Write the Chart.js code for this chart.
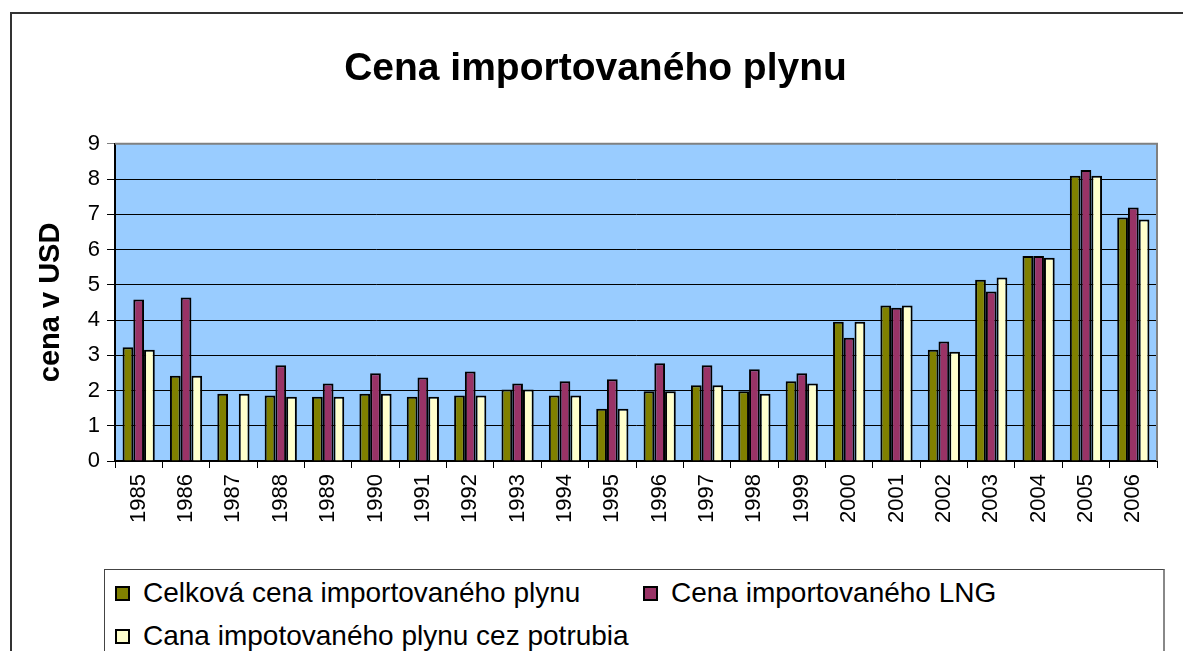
<!DOCTYPE html>
<html>
<head>
<meta charset="utf-8">
<script src="https://cdn.jsdelivr.net/npm/chart.js@4"></script>
<style>
  body { margin: 0; background: #fff; font-family: "Liberation Sans", Arial, sans-serif; }
  #wrap { position: relative; width: 1183px; height: 651px; overflow: hidden; }
  #frame { position: absolute; left: 10px; top: 12px; width: 1300px; height: 800px; border-left: 2px solid #333; border-top: 2px solid #333; }
  #chart { position: absolute; left: 0; top: 0; }
  #legend { position: absolute; left: 104px; top: 569px; width: 1061px; height: 120px; border: 1px solid #444; border-right: 2px solid #888; background: #fff;
    display: grid; grid-template-columns: 528px auto; grid-auto-rows: 43px; padding: 1px 0 0 10px; box-sizing: border-box; }
  .item { position: relative; font-size: 28px; line-height: 43px; color: #000; white-space: nowrap; padding-left: 28px; }
  .box { position: absolute; left: 0; top: 15px; width: 15px; height: 15px; border: 2px solid #000; box-sizing: border-box; }
</style>
</head>
<body>
<div id="wrap">
  <div id="frame"></div>
  <canvas id="chart" width="1183" height="651"></canvas>
  <div id="legend"></div>
</div>
<script>
const CHART = document.getElementById("chart");

const YEARS = ["1985", "1986", "1987", "1988", "1989", "1990", "1991", "1992", "1993", "1994", "1995",
  "1996", "1997", "1998", "1999", "2000", "2001", "2002", "2003", "2004", "2005", "2006"];

// Celkova cena importovaneho plynu
const celkova = [3.23, 2.42, 1.91, 1.86, 1.82, 1.91, 1.82, 1.86, 2.03, 1.86, 1.48,
  1.98, 2.15, 1.98, 2.26, 3.95, 4.41, 3.16, 5.14, 5.82, 8.09, 6.91];
// Cena importovaneho LNG (1987 missing)
const lng = [4.58, 4.64, null, 2.72, 2.20, 2.49, 2.37, 2.54, 2.20, 2.26, 2.32,
  2.77, 2.72, 2.60, 2.49, 3.50, 4.35, 3.39, 4.81, 5.82, 8.26, 7.19];
// cez potrubia
const potrubia = [3.16, 2.42, 1.91, 1.82, 1.82, 1.91, 1.82, 1.86, 2.03, 1.86, 1.48,
  1.98, 2.15, 1.91, 2.20, 3.95, 4.41, 3.10, 5.21, 5.77, 8.09, 6.85];

const Y_TICKS = [0, 1, 2, 3, 4, 5, 6, 7, 8, 9];

const SERIES = [
  { label: "Celková cena importovaného plynu", color: "#808000", data: celkova },
  { label: "Cena importovaného LNG", color: "#993366", data: lng },
  { label: "Cana impotovaného plynu cez potrubia", color: "#FFFFCC", data: potrubia },
];

Chart.defaults.font.family = "'Liberation Sans', Arial, sans-serif";
Chart.defaults.color = "#000";

// blue plot background + grey right edge
const plotArea = {
  id: "plotArea",
  beforeDraw(chart) {
    const { ctx, chartArea: a } = chart;
    ctx.save();
    ctx.fillStyle = "#99CCFF";
    ctx.fillRect(a.left, a.top, a.right - a.left, a.bottom - a.top);
    ctx.restore();
  },
  afterDatasetsDraw(chart) {
    const { ctx, chartArea: a } = chart;
    ctx.save();
    ctx.strokeStyle = "#808080";
    ctx.lineWidth = 2;
    ctx.beginPath();
    ctx.moveTo(a.left, a.top);
    ctx.lineTo(a.right, a.top);
    ctx.lineTo(a.right, a.bottom);
    ctx.stroke();
    ctx.restore();
  },
};

let barChart = new Chart(CHART, {
  type: "bar",
  data: {
    labels: YEARS,
    datasets: SERIES.map((s) => ({
      label: s.label,
      data: s.data,
      backgroundColor: s.color,
      borderColor: "#000",
      borderWidth: 2,
      categoryPercentage: 0.68,
      barPercentage: 1.0,
    })),
  },
  plugins: [plotArea],
  options: {
    responsive: false,
    animation: false,
    layout: { padding: { left: 34, right: 26, top: 0, bottom: 0 } },
    plugins: {
      legend: { display: false },
      tooltip: { enabled: false },
      title: {
        display: true,
        text: "Cena importovaného plynu",
        font: { size: 39, weight: "bold" },
        padding: { top: 46, bottom: 51 },
      },
    },
    scales: {
      x: {
        grid: { offset: true, drawOnChartArea: false, drawTicks: true, tickLength: 7, color: "#000" },
        border: { color: "#000", width: 2 },
        ticks: { minRotation: 90, maxRotation: 90, font: { size: 22 }, padding: 6 },
        afterFit(s) { s.height = 190; },
      },
      y: {
        min: 0,
        max: 9,
        afterBuildTicks(s) { s.ticks = Y_TICKS.map((v) => ({ value: v })); },
        grid: {
          color: (c) => (c.tick && c.tick.value === 9 ? "#808080" : "#000"),
          tickLength: 8,
        },
        border: { color: "#000", width: 2 },
        ticks: { font: { size: 22 }, padding: 7 },
        title: { display: true, text: "cena v USD", font: { size: 29, weight: "bold" }, padding: 0 },
        afterFit(s) { s.width = 81; },
      },
    },
  },
});

// legend built from the same series
const LEGEND = document.getElementById("legend");
SERIES.forEach((s) => {
  let item = document.createElement("div");
  item.className = "item";
  let box = document.createElement("span");
  box.className = "box";
  box.style.background = s.color;
  item.appendChild(box);
  item.appendChild(document.createTextNode(s.label));
  LEGEND.appendChild(item);
});
</script>
</body>
</html>
